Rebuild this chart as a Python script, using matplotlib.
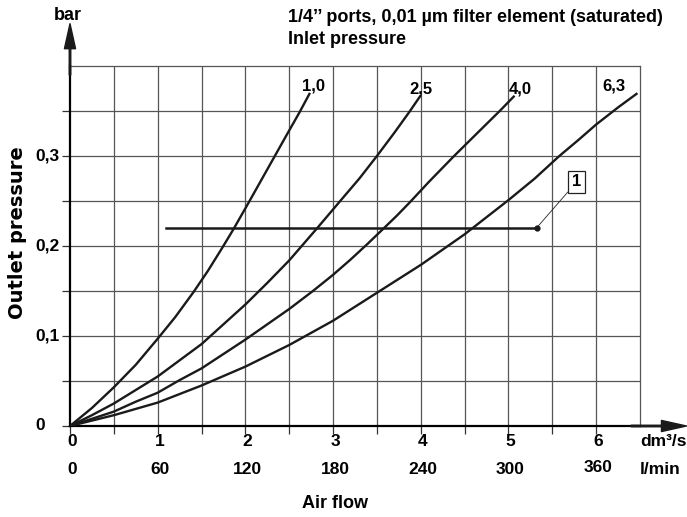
import numpy as np
import matplotlib
matplotlib.use("Agg")
import matplotlib.pyplot as plt

plt.rcParams['font.family'] = ['Liberation Sans', 'DejaVu Sans']
plt.rcParams['font.weight'] = 'bold'

# Kurven: Ausgangsdruck (bar) über Durchfluss (dm3/s) für je einen Eingangsdruck
inlet_labels = ['1,0', '2,5', '4,0', '6,3']

flow_10 = [0, 0.25, 0.5, 0.75, 1.0, 1.2, 1.41, 1.57, 1.73, 1.86, 2.03, 2.18, 2.33, 2.48, 2.62, 2.73]
press_10 = [0, 0.020, 0.043, 0.068, 0.097, 0.121, 0.149, 0.172, 0.197, 0.218, 0.247,
            0.273, 0.299, 0.325, 0.349, 0.369]

flow_25 = [0, 0.25, 0.5, 0.75, 1.0, 1.25, 1.5, 1.75, 2.0, 2.25, 2.5, 2.82, 3.09, 3.3, 3.5,
           3.7, 3.87, 3.99]
press_25 = [0, 0.012, 0.025, 0.040, 0.055, 0.073, 0.091, 0.113, 0.135, 0.159, 0.184, 0.220,
            0.251, 0.275, 0.300, 0.326, 0.349, 0.366]

flow_40 = [0, 0.25, 0.5, 0.75, 1.0, 1.25, 1.5, 1.75, 2.0, 2.25, 2.5, 2.77, 3.0, 3.2, 3.4,
           3.56, 3.72, 3.87, 4.1, 4.38, 4.65, 4.9, 5.06]
press_40 = [0, 0.008, 0.016, 0.027, 0.037, 0.051, 0.064, 0.080, 0.096, 0.113, 0.130, 0.150,
            0.168, 0.185, 0.203, 0.218, 0.233, 0.248, 0.272, 0.300, 0.326, 0.350, 0.366]

flow_63 = [0, 0.5, 1.0, 1.5, 2.0, 2.5, 3.0, 3.5, 4.0, 4.5, 5.0, 5.3, 5.58, 5.8, 6.0, 6.25, 6.46]
press_63 = [0, 0.012, 0.026, 0.045, 0.066, 0.090, 0.117, 0.148, 0.179, 0.213, 0.251, 0.275,
            0.300, 0.318, 0.335, 0.354, 0.369]

curves = [(flow_10, press_10), (flow_25, press_25), (flow_40, press_40), (flow_63, press_63)]
label_dx = [4, 1, 7, -23]   # Pixelversatz der Beschriftung am Kurvenende

# Linie "1"
line1_flow = [1.10, 5.32]
line1_press = [0.22, 0.22]

# Achsen
x_ticks = [0, 1, 2, 3, 4, 5, 6]
x_ticks_lmin = ['0', '60', '120', '180', '240', '300', '360']
y_ticks = [0, 0.1, 0.2, 0.3]
y_tick_labels = ['0', '0,1', '0,2', '0,3']

FS = 13
FS_NUM = 12.5

fig = plt.figure(figsize=(6.87, 5.17), dpi=100)
ax = fig.add_axes([70/687, 91/517, 570/687, 360/517])
ax.set_xlim(0, 6.5)
ax.set_ylim(0, 0.4)

# Raster
for gx in np.arange(0.5, 6.5, 0.5):
    ax.axvline(gx, color='#555555', lw=0.9, zorder=1)
for gy in np.arange(0.05, 0.4, 0.05):
    ax.axhline(gy, color='#555555', lw=0.9, zorder=1)

for s in ['top', 'right']:
    ax.spines[s].set_color('#555555')
    ax.spines[s].set_linewidth(0.9)
for s in ['left', 'bottom']:
    ax.spines[s].set_linewidth(1.6)

ax.set_xticks(np.arange(0, 6.5, 0.5))
ax.set_yticks(np.arange(0, 0.4, 0.05))
ax.set_xticklabels([])
ax.set_yticklabels([])
ax.tick_params(length=6, width=0.9, color='#333333')

# Kurven
for (fx, py), lab, dx in zip(curves, inlet_labels, label_dx):
    ax.plot(fx, py, color='#1a1a1a', lw=1.7, zorder=3, solid_joinstyle='round')
    ax.annotate(lab, xy=(fx[-1], py[-1]), xytext=(dx, 0), textcoords='offset pixels',
                ha='center', va='bottom', fontsize=12)

ax.plot(line1_flow, line1_press, color='#1a1a1a', lw=1.8, zorder=3)
ax.plot(line1_flow[-1], line1_press[-1], 'o', color='#1a1a1a', ms=3.5, zorder=4)
ax.annotate('1', xy=(line1_flow[-1], line1_press[-1]), xytext=(40, 46),
            textcoords='offset pixels', ha='center', va='center', fontsize=12,
            bbox=dict(boxstyle='square,pad=0.22', fc='white', ec='#222222', lw=0.9),
            arrowprops=dict(arrowstyle='-', color='#222222', lw=0.6,
                            shrinkA=0, shrinkB=0))

# Achsenpfeile
ax.annotate('', xy=(0, 0.447), xytext=(0, 0.39), annotation_clip=False,
            arrowprops=dict(width=1.1, headwidth=8, headlength=18, color='#1a1a1a',
                            shrink=0))
ax.annotate('', xy=(7.03, 0), xytext=(6.4, 0), annotation_clip=False,
            arrowprops=dict(width=1.1, headwidth=8, headlength=18, color='#1a1a1a',
                            shrink=0))

# Tick-Beschriftungen
for xv, lm in zip(x_ticks, x_ticks_lmin):
    ax.annotate(str(xv), xy=(xv, 0), xytext=(2, -16), textcoords='offset pixels',
                ha='center', va='center', fontsize=FS_NUM, annotation_clip=False)
    dy = -41 if lm == '360' else -44
    ax.annotate(lm, xy=(xv, 0), xytext=(2, dy), textcoords='offset pixels',
                ha='center', va='center', fontsize=FS_NUM, annotation_clip=False)
for yv, yl in zip(y_ticks, y_tick_labels):
    ax.annotate(yl, xy=(0, yv), xytext=(-35, 0), textcoords='offset pixels',
                ha='left', va='center', fontsize=FS_NUM, annotation_clip=False)

ax.annotate('dm³/s', xy=(6.5, 0), xytext=(0, -16), textcoords='offset pixels',
            ha='left', va='center', fontsize=FS_NUM, annotation_clip=False)
ax.annotate('l/min', xy=(6.5, 0), xytext=(0, -44), textcoords='offset pixels',
            ha='left', va='center', fontsize=FS_NUM, annotation_clip=False)

fig.text(68/687, 1 - 15/517, 'bar', ha='center', va='center', fontsize=FS)
fig.text(335/687, 1 - 503/517, 'Air flow', ha='center', va='center', fontsize=FS)
fig.text(18/687, 1 - 233/517, 'Outlet pressure', ha='center', va='center', rotation=90,
         fontsize=14, family='DejaVu Sans')
fig.text(288/687, 1 - 17/517, '1/4’’ ports, 0,01 µm filter element (saturated)',
         ha='left', va='center', fontsize=FS)
fig.text(288/687, 1 - 40/517, 'Inlet pressure', ha='left', va='center', fontsize=FS)

fig.savefig('out.png', dpi=100)
